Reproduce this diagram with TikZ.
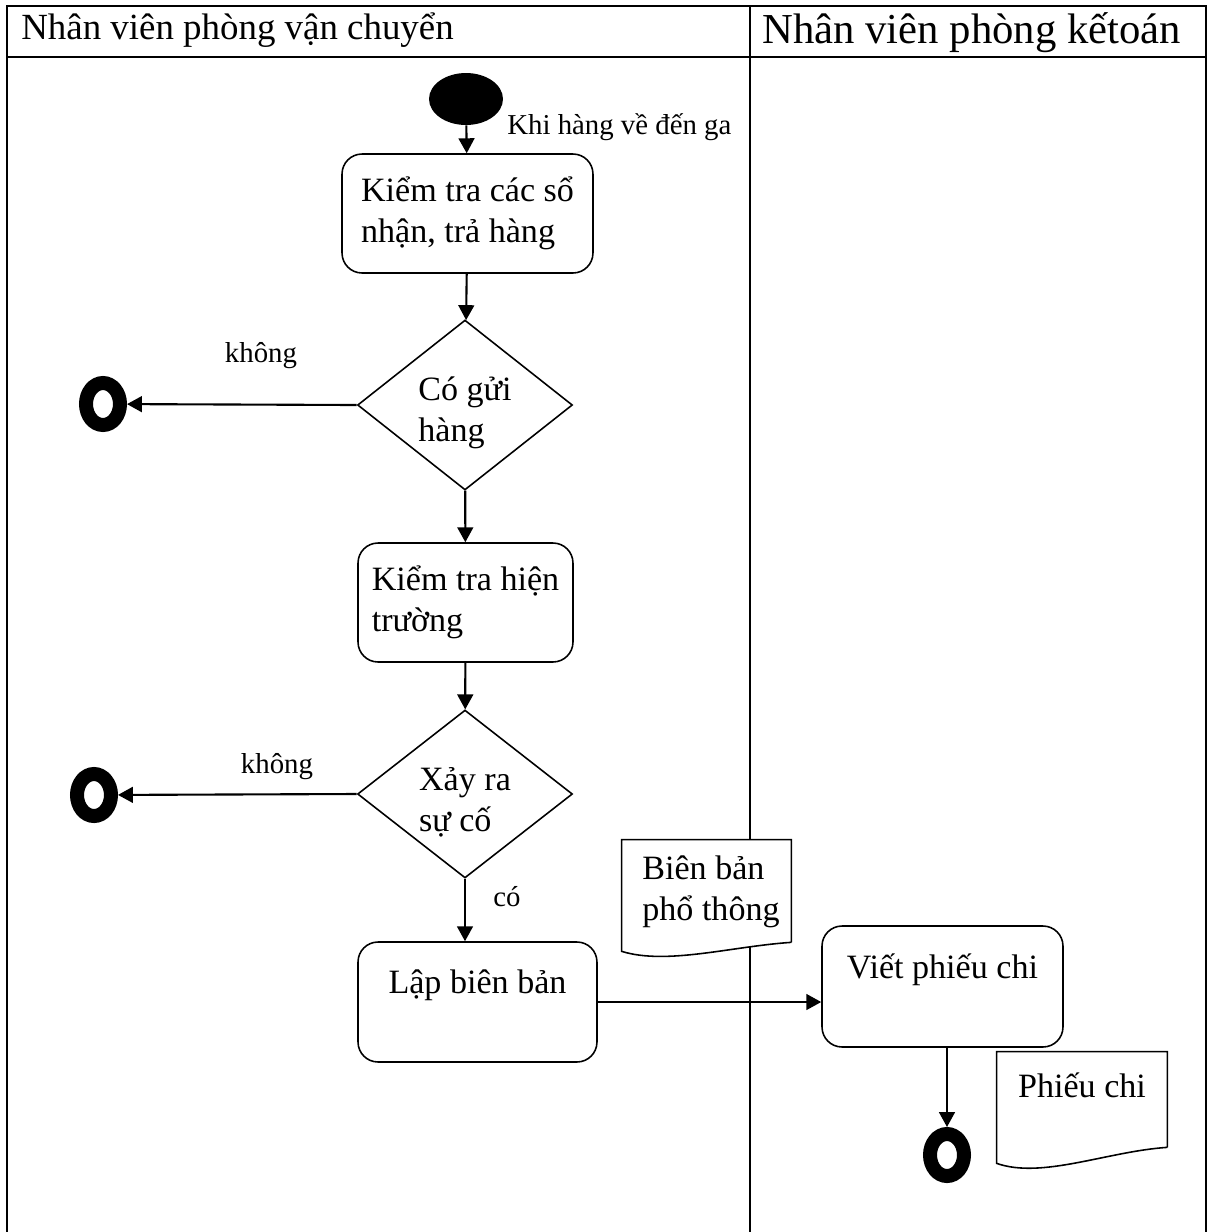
\documentclass[tikz,border=0pt]{standalone}
\usepackage{fontspec}
\setmainfont{Liberation Serif}
\usetikzlibrary{arrows.meta, shapes.geometric, calc}

\newcommand{\actfont}{\fontsize{19.4}{23}\selectfont}
\newcommand{\lblfont}{\fontsize{16.4}{19}\selectfont}

\begin{document}
\begin{tikzpicture}[x=0.02cm, y=-0.02cm, >={Triangle[length=8.5pt,width=9pt]},
    lane/.style={line width=1.1pt},
    activity/.style={draw, line width=0.9pt, rounded corners=0.4cm, align=left, inner sep=0pt, font=\actfont},
    decision/.style={draw, diamond, line width=0.9pt, inner sep=0pt, aspect=1.26, align=left, text height=1.6cm, font=\actfont},
    startnode/.style={ellipse, fill=black, minimum width=1.48cm, minimum height=1.04cm},
    endnode/.style={ellipse, draw, line width=0.28cm, minimum width=0.68cm, minimum height=0.84cm, inner sep=0pt},
    docnode/.style={inner sep=0pt, align=left, font=\actfont},
    flow/.style={->, line width=1.2pt},
    guard/.style={font=\lblfont}]
  \useasboundingbox (0,0) rectangle (1211,1232);

  \draw[lane] (7,1232) -- (7,6) -- (1206,6) -- (1206,1232);
  \draw[lane] (7,57) -- (1206,57);
  \draw[lane] (750,6) -- (750,1232);
  \node[anchor=west, inner sep=0pt, font=\fontsize{21}{24}\selectfont] (lane1) at (21,30) {Nhân viên phòng vận chuyển};
  \node[anchor=west, inner sep=0pt, font=\fontsize{24.3}{28}\selectfont] (lane2) at (762,33) {Nhân viên phòng kếtoán};

  \node[startnode] (start) at (466,99) {};
  \node[guard, anchor=west, inner sep=0pt] (arrive) at (507,127) {Khi hàng về đến ga};

  \node[activity, minimum width=5.02cm, minimum height=2.38cm] (check) at (467.5,213.5) {Kiểm tra các sổ\\nhận, trả hàng};
  \node[decision, minimum width=4.3cm, minimum height=3.4cm] (sent) at (465,405) {Có gửi\\hàng};
  \node[endnode] (end1) at (103,404) {};
  \node[guard] (no1) at (261,356) {không};

  \node[activity, minimum width=4.3cm, minimum height=2.38cm] (scene) at (465.5,602.5) {Kiểm tra hiện\\trường};
  \node[decision, minimum width=4.3cm, minimum height=3.36cm] (incident) at (465,794) {Xảy ra\\sự cố};
  \node[endnode] (end2) at (94,795) {};
  \node[guard] (no2) at (277,767) {không};
  \node[guard] (yes) at (507,897) {có};

  \node[activity, minimum width=4.78cm, minimum height=2.4cm] (report) at (477.5,1002) {Lập biên bản\\\mbox{}};
  \node[docnode, minimum width=3.38cm, minimum height=2.04cm] (record) at (706.5,891) {};
  \draw[line width=0.9pt, fill=white] (record.south east) -- (record.north east) -- (record.north west)
      -- ($(record.south west)+(0,9)$) .. controls +(45,14) and +(-60,4) .. (record.south east);
  \node[docnode] (rtext) at (711,892) {Biên bản\\phổ thông};

  \node[activity, align=center, minimum width=4.82cm, minimum height=2.42cm] (pay) at (942.5,986.5) {Viết phiếu chi\\\mbox{}};
  \node[endnode] (end3) at (947,1155) {};
  \node[docnode, minimum width=3.4cm, minimum height=1.9cm] (voucher) at (1082,1099.5) {};
  \draw[line width=0.9pt] (voucher.south east) -- (voucher.north east) -- (voucher.north west)
      -- ($(voucher.south west)+(0,16)$) .. controls +(45,16) and +(-60,4) .. (voucher.south east);
  \node[docnode] (vtext) at (1082,1085) {Phiếu chi};

  \draw[flow] (start) -- (check);
  \draw[flow] (check) -- (sent);
  \draw[flow] (sent.west) -- (end1);
  \draw[flow] (sent) -- (scene);
  \draw[flow] (scene) -- (incident);
  \draw[flow] (incident.west) -- (end2);
  \draw[flow] (incident.south) -- (incident.south |- report.north);
  \draw[flow] (report.east) -- (report.east -| pay.west);
  \draw[flow] (pay.south -| end3) -- (end3);
\end{tikzpicture}
\end{document}
